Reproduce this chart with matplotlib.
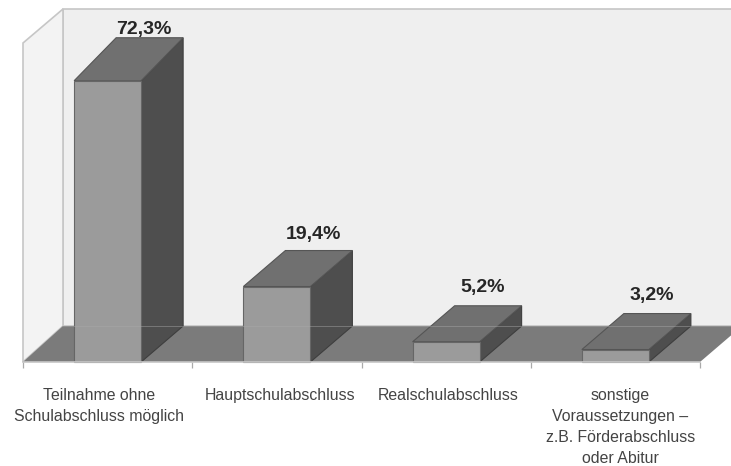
import matplotlib
matplotlib.use('Agg')
import matplotlib.pyplot as plt
from matplotlib.patches import Polygon

plt.rcParams['font.family'] = ['Liberation Sans', 'DejaVu Sans']

categories = ['Teilnahme ohne\nSchulabschluss möglich',
              'Hauptschulabschluss',
              'Realschulabschluss',
              'sonstige\nVoraussetzungen –\nz.B. Förderabschluss\noder Abitur']
values = [72.3, 19.4, 5.2, 3.2]
value_labels = ['72,3%', '19,4%', '5,2%', '3,2%']

W, H = 731, 466
# extra rise of each bar's top face, in px
top_rise = [43, 36, 36, 36]
label_gap = [8.5, 16.5, 18, 18]
cat_shift = [-9, 3, 2, 5]

front_c = '#9b9b9b'
top_c = '#707070'
side_c = '#4e4e4e'
floor_c = '#7b7b7b'
wall_c = '#efefef'
edge_c = '#c6c6c6'

fig = plt.figure(figsize=(W / 100, H / 100), dpi=100)
ax = fig.add_axes([23 / W, (H - 362) / H, 677 / W, 319 / H])
ax.set_xlim(0, len(values))
ax.set_ylim(0, 82)
ax.patch.set_visible(False)

px_x = len(values) / 677  # one pixel in category units
px_y = 82 / 319
dx = 42 * px_x
dy = 36 * px_y
wall_dx = 40 * px_x
top = 82
wall_top = top - 2 * px_y + dy
n = len(values)


def poly(pts, fc, ec='none', lw=0.8, z=1):
    ax.add_patch(Polygon(pts, closed=True, facecolor=fc, edgecolor=ec, linewidth=lw,
                         zorder=z, clip_on=False))


# back wall, side wall and floor
poly([(wall_dx, dy), (wall_dx, wall_top), (n + dx * 2, wall_top), (n + dx * 2, dy)],
     wall_c, edge_c, 1.2, 1)
poly([(0, 0), (0, top), (wall_dx, wall_top), (wall_dx, dy)], '#f3f3f3', edge_c, 1.2, 1)
poly([(0, 0), (wall_dx, dy), (n + dx, dy), (n, 0)], floor_c, 'none', 0, 2)

# bars, front to back faces
bar_w = 67 * px_x
for i, v in enumerate(values):
    x0 = i + 0.5 - bar_w / 2
    x1 = x0 + bar_w
    rise = top_rise[i] * px_y
    poly([(x1, 0), (x1 + dx, dy), (x1 + dx, v + rise), (x1, v)], side_c, '#3e3e3e', 0.8, 3)
    poly([(x0, v), (x1, v), (x1 + dx, v + rise), (x0 + dx, v + rise)], top_c, '#555555', 0.8, 3)
    poly([(x0, 0), (x1, 0), (x1, v), (x0, v)], front_c, '#666666', 0.8, 3)
    ax.annotate(value_labels[i], (i + 0.5 + dx * 0.87, v + rise), xytext=(0, label_gap[i] * 0.72),
                textcoords='offset points', ha='center', va='center', fontsize=14,
                fontweight='bold', color='#262626', zorder=5, annotation_clip=False)
    ax.annotate(categories[i], (i + 0.5, 0), xytext=(cat_shift[i] * 0.72, -19),
                textcoords='offset points', ha='center', va='top', fontsize=11.4,
                color='#444444', linespacing=1.5, annotation_clip=False)

# faint line where the back wall meets the floor
ax.plot([wall_dx, n + dx], [dy, dy], color='#aaaaaa', lw=0.7, alpha=0.45, zorder=4, clip_on=False)

for s in ['top', 'left', 'right']:
    ax.spines[s].set_visible(False)
ax.spines['bottom'].set_color(edge_c)
ax.spines['bottom'].set_linewidth(1.2)
ax.spines['bottom'].set_zorder(6)
ax.set_yticks([])
ax.set_xticks(range(n + 1))
ax.set_xticklabels([])
ax.tick_params(axis='x', length=4, width=0.9, color='#aaaaaa')

fig.savefig('out.png', dpi=100, facecolor='white')
